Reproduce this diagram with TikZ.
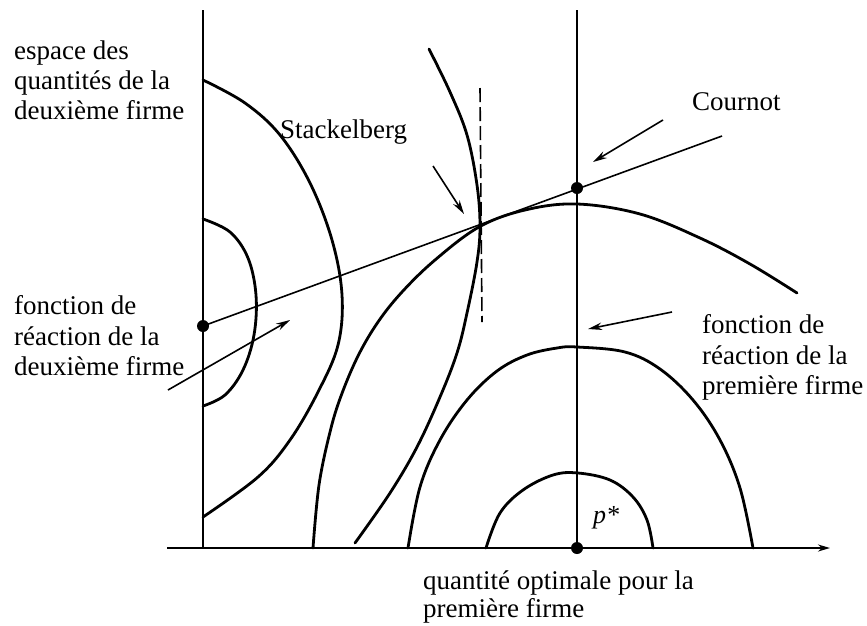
\documentclass[tikz,border=0pt]{standalone}
\usepackage{fontspec}
\setmainfont{Liberation Serif}
\usetikzlibrary{arrows.meta}
\begin{document}
\begin{tikzpicture}[x=1pt,y=-1pt,
  curve/.style={line width=2.8pt, line join=round, line cap=round},
  thinline/.style={line width=1.6pt},
  pointer/.style={line width=1.6pt, -{Stealth[length=14pt,width=7.5pt]}},
  dot/.style={circle, fill=black, inner sep=0pt, minimum size=12pt},
  lbl/.style={inner sep=0pt, anchor=base west, font=\fontsize{27}{30}\selectfont}]
\useasboundingbox (0,0) rectangle (867,625);

% axes
\coordinate (ytop) at (203,10);
\coordinate (origin) at (203,548);
\coordinate (xstart) at (167,548);
\coordinate (xend) at (830,548);
\draw[thinline] (ytop) -- (origin);
\draw[thinline, -{Stealth[length=12pt,width=7pt]}] (xstart) -- (xend);

% vertical line through optimum of firm 1
\coordinate (vtop) at (577,10);
\node[dot] (pstar) at (577,548) {};
\draw[thinline] (vtop) -- (pstar);

% dots
\node[dot] (cournot) at (577,188) {};
\node[dot] (r2dot) at (203,326) {};
\coordinate (r2end) at (722,136);
\draw[thinline] (r2dot.center) -- (r2end);

% dashed vertical at Stackelberg
\coordinate (dtop) at (480,88);
\coordinate (dbot) at (482,322);
\draw[thinline, dash pattern=on 14pt off 5pt] (dtop) -- (dbot);

% isoprofit curves of firm 2
\draw[curve] plot[smooth, tension=0.6] coordinates {(203,80) (245,103) (280,135) (310,183) (332,240) (342,295) (338,345) (318,392) (290,440) (258,477) (203,517)};
\draw[curve] plot[smooth, tension=0.6] coordinates {(203,219) (230,232) (248,258) (256,295) (254,335) (243,370) (225,395) (203,406)};
\draw[curve] plot[smooth, tension=0.6] coordinates {(429,49) (450,92) (467,135) (477,185) (480,226) (477,262) (467,313) (457,353) (440,397) (417,447) (390,493) (355,543)};

% isoprofit curves of firm 1
\draw[curve] plot[smooth, tension=0.6] coordinates {(313,548) (319,485) (330,432) (341,396) (358,356) (378,322) (402,292) (435,260) (479,227) (525,210) (577,204) (640,214) (700,238) (750,264) (797,293)};
\draw[curve] plot[smooth, tension=0.6] coordinates {(408,548) (420,487) (440,440) (467,400) (497,371) (527,355) (557,348) (577,347) (625,352) (660,369) (693,400) (720,440) (740,488) (753,548)};
\draw[curve] plot[smooth, tension=0.6] coordinates {(486,548) (500,513) (523,490) (553,475) (578,473) (610,480) (633,497) (647,520) (653,548)};

% pointer arrows
\coordinate (sa1) at (433,166); \coordinate (sa2) at (464,214);
\draw[pointer] (sa1) -- (sa2);
\coordinate (ca1) at (663,120); \coordinate (ca2) at (593,162);
\draw[pointer] (ca1) -- (ca2);
\coordinate (fa1) at (672,312); \coordinate (fa2) at (588,329);
\draw[pointer] (fa1) -- (fa2);
\coordinate (da1) at (168,390); \coordinate (da2) at (290,320);
\draw[pointer] (da1) -- (da2);

% labels
\node[lbl] (t1) at (14,59) {espace des};
\node[lbl] (t2) at (14,89) {quantités de la};
\node[lbl] (t3) at (14,119) {deuxième firme};
\node[lbl] (stack) at (280,138) {Stackelberg};
\node[lbl] (cour) at (692,110) {Cournot};
\node[lbl] (l1) at (14,314) {fonction de};
\node[lbl] (l2) at (14,345) {réaction de la};
\node[lbl] (l3) at (14,375) {deuxième firme};
\node[lbl] (r1) at (702,333) {fonction de};
\node[lbl] (r2) at (702,364) {réaction de la};
\node[lbl] (r3) at (702,394) {première firme};
\node[lbl] (b1) at (423,589) {quantité optimale pour la};
\node[lbl] (b2) at (423,617) {première firme};
\node[lbl, font=\fontsize{26}{30}\selectfont\itshape] (plabel) at (593,523) {p*};
\end{tikzpicture}
\end{document}
